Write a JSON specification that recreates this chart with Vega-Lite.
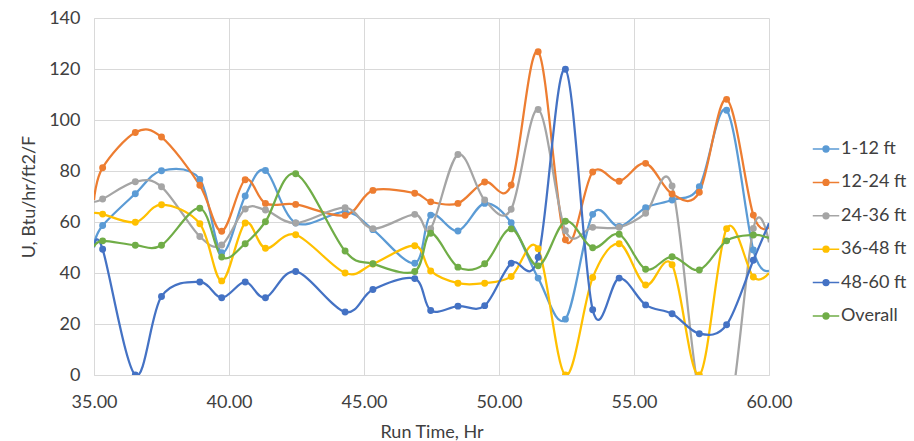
{
  "$schema": "https://vega.github.io/schema/vega-lite/v6.json",
  "autosize": "none",
  "width": 675,
  "height": 357,
  "padding": {"left": 94, "top": 18, "right": 145, "bottom": 66},
  "background": "white",
  "config": {
    "font": "Lato",
    "view": {"stroke": null},
    "axis": {
      "labelFont": "Lato", "titleFont": "Lato",
      "labelColor": "#404040", "titleColor": "#404040",
      "labelFontSize": 18, "titleFontSize": 18, "titleFontWeight": "normal",
      "gridColor": "#D9D9D9", "domainColor": "#D9D9D9", "ticks": false
    },
    "legend": {"labelFont": "Lato", "labelFontSize": 18, "labelColor": "#404040"}
  },
  "data": {"values": [
    {"t": 35.0, "1-12 ft": 51, "12-24 ft": 68.6, "24-36 ft": 68, "36-48 ft": 63.5, "48-60 ft": 50, "Overall": 50.3},
    {"t": 35.32, "1-12 ft": 58.6, "12-24 ft": 81.3, "24-36 ft": 69, "36-48 ft": 63.1, "48-60 ft": 49.3, "Overall": 52.6},
    {"t": 36.53, "1-12 ft": 71.1, "12-24 ft": 95.1, "24-36 ft": 75.8, "36-48 ft": 59.9, "48-60 ft": 0, "Overall": 50.9},
    {"t": 37.5, "1-12 ft": 80.1, "12-24 ft": 93.3, "24-36 ft": 73.8, "36-48 ft": 66.8, "48-60 ft": 30.8, "Overall": 50.9},
    {"t": 38.92, "1-12 ft": 76.7, "12-24 ft": 74.4, "24-36 ft": 54.3, "36-48 ft": 59.3, "48-60 ft": 36.5, "Overall": 65.4},
    {"t": 39.73, "1-12 ft": 48, "12-24 ft": 56.4, "24-36 ft": 51, "36-48 ft": 36.9, "48-60 ft": 30.3, "Overall": 46.3},
    {"t": 40.6, "1-12 ft": 70.2, "12-24 ft": 76.6, "24-36 ft": 65.1, "36-48 ft": 59.6, "48-60 ft": 36.5, "Overall": 51.5},
    {"t": 41.35, "1-12 ft": 80.2, "12-24 ft": 67.3, "24-36 ft": 64.7, "36-48 ft": 49.7, "48-60 ft": 30.3, "Overall": 60.1},
    {"t": 42.47, "1-12 ft": 59.6, "12-24 ft": 66.9, "24-36 ft": 59.6, "36-48 ft": 55, "48-60 ft": 40.6, "Overall": 78.9},
    {"t": 44.3, "1-12 ft": 64, "12-24 ft": 62.6, "24-36 ft": 65.6, "36-48 ft": 40, "48-60 ft": 24.7, "Overall": 48.6},
    {"t": 45.33, "1-12 ft": 57, "12-24 ft": 72.4, "24-36 ft": 57.4, "36-48 ft": 43.5, "48-60 ft": 33.5, "Overall": 43.6},
    {"t": 46.88, "1-12 ft": 43.8, "12-24 ft": 71.3, "24-36 ft": 63, "36-48 ft": 50.7, "48-60 ft": 37.8, "Overall": 40.6},
    {"t": 47.47, "1-12 ft": 62.7, "12-24 ft": 67.9, "24-36 ft": 57.4, "36-48 ft": 40.8, "48-60 ft": 25.3, "Overall": 55.6},
    {"t": 48.48, "1-12 ft": 56.5, "12-24 ft": 67.3, "24-36 ft": 86.5, "36-48 ft": 36, "48-60 ft": 27, "Overall": 42.3},
    {"t": 49.47, "1-12 ft": 67.3, "12-24 ft": 75.7, "24-36 ft": 68.6, "36-48 ft": 36, "48-60 ft": 27.2, "Overall": 43.6},
    {"t": 50.45, "1-12 ft": 59.7, "12-24 ft": 74.5, "24-36 ft": 65, "36-48 ft": 38.6, "48-60 ft": 43.8, "Overall": 57.3},
    {"t": 51.45, "1-12 ft": 38, "12-24 ft": 126.8, "24-36 ft": 104.1, "36-48 ft": 49.5, "48-60 ft": 46.2, "Overall": 42.8},
    {"t": 52.46, "1-12 ft": 21.9, "12-24 ft": 53, "24-36 ft": 56.6, "36-48 ft": 0, "48-60 ft": 119.9, "Overall": 60.3},
    {"t": 53.47, "1-12 ft": 63, "12-24 ft": 79.6, "24-36 ft": 57.9, "36-48 ft": 38.2, "48-60 ft": 25.6, "Overall": 49.9},
    {"t": 54.45, "1-12 ft": 58.2, "12-24 ft": 76, "24-36 ft": 57.9, "36-48 ft": 51.5, "48-60 ft": 38, "Overall": 55.2},
    {"t": 55.43, "1-12 ft": 65.6, "12-24 ft": 83, "24-36 ft": 63.4, "36-48 ft": 35.3, "48-60 ft": 27.5, "Overall": 41.5},
    {"t": 56.41, "1-12 ft": 68.6, "12-24 ft": 71, "24-36 ft": 74.1, "36-48 ft": 43.2, "48-60 ft": 24, "Overall": 46.4},
    {"t": 57.42, "1-12 ft": 73.8, "12-24 ft": 71.7, "24-36 ft": -8, "36-48 ft": 0, "48-60 ft": 16.2, "Overall": 41.2},
    {"t": 58.43, "1-12 ft": 103.8, "12-24 ft": 108.1, "24-36 ft": -22, "36-48 ft": 57.4, "48-60 ft": 19.7, "Overall": 52.6},
    {"t": 59.42, "1-12 ft": 49, "12-24 ft": 62.7, "24-36 ft": 57.5, "36-48 ft": 38.4, "48-60 ft": 45, "Overall": 54.9},
    {"t": 60.0, "1-12 ft": 41, "12-24 ft": 58, "24-36 ft": 52, "36-48 ft": 40, "48-60 ft": 59.5, "Overall": 53.7}
  ]},
  "transform": [
    {"fold": ["1-12 ft", "12-24 ft", "24-36 ft", "36-48 ft", "48-60 ft", "Overall"], "as": ["series", "u"]}
  ],
  "encoding": {
    "x": {
      "field": "t", "type": "quantitative",
      "scale": {"domain": [35, 60], "nice": false, "zero": false},
      "axis": {"values": [35, 40, 45, 50, 55, 60], "format": ".2f", "title": "Run Time, Hr", "labelFlush": false, "labelBound": false, "labelPadding": 18, "titlePadding": 12, "domainColor": "#D9D9D9"}
    },
    "y": {
      "field": "u", "type": "quantitative",
      "scale": {"domain": [0, 140], "nice": false},
      "axis": {"values": [0, 20, 40, 60, 80, 100, 120, 140], "title": "U, Btu/hr/ft2/F", "labelPadding": 14, "titlePadding": 10}
    },
    "color": {
      "field": "series", "type": "nominal",
      "scale": {
        "domain": ["1-12 ft", "12-24 ft", "24-36 ft", "36-48 ft", "48-60 ft", "Overall"],
        "range": ["#5B9BD5", "#ED7D31", "#A5A5A5", "#FFC000", "#4472C4", "#70AD47"]
      },
      "legend": {
        "title": null, "orient": "none", "legendX": 718, "legendY": 117,
        "symbolType": "M-1,0L1,0M-0.22,0A0.22,0.22 0 1,1 0.22,0A0.22,0.22 0 1,1 -0.22,0",
        "symbolSize": 700, "symbolStrokeWidth": 1.5, "rowPadding": 10.4, "labelOffset": 1
      }
    }
  },
  "layer": [
    {"mark": {"type": "line", "interpolate": "cardinal", "strokeWidth": 2.25, "clip": true}},
    {
      "transform": [{"filter": "datum.t > 35 && datum.t < 60"}],
      "mark": {"type": "point", "filled": true, "size": 48, "opacity": 1, "clip": true}
    }
  ]
}
